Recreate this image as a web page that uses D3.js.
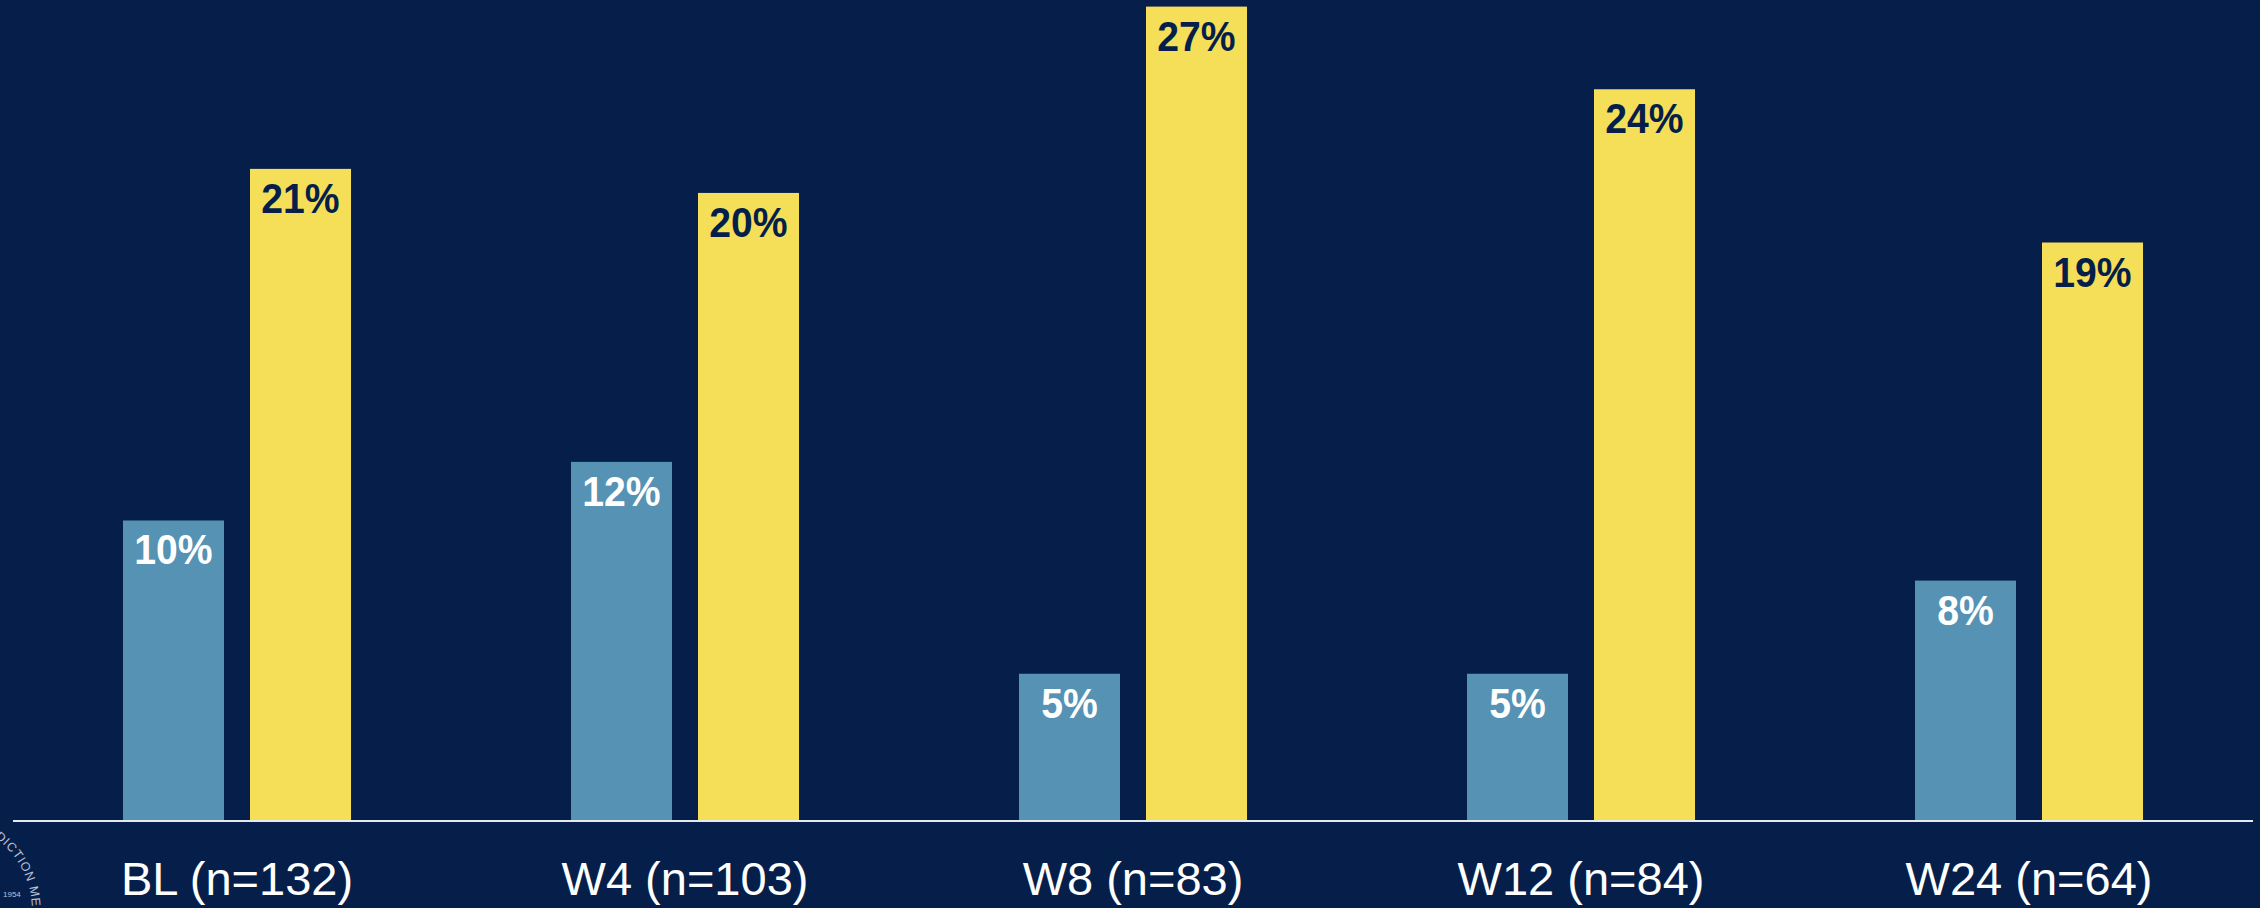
<!DOCTYPE html>
<html>
<head>
<meta charset="utf-8">
<script src="https://cdn.jsdelivr.net/npm/d3@7"></script>
<style>
  html, body { margin: 0; padding: 0; background: #061f4a; overflow: hidden; }
  svg { display: block; }
</style>
</head>
<body>
<svg id="chart" width="2260" height="908"></svg>
<script>
// ---- data ----
const categories = ["BL (n=132)", "W4 (n=103)", "W8 (n=83)", "W12 (n=84)", "W24 (n=64)"];
const seriesNames = ["blue", "yellow"];
const blueValues = [10.0, 11.95, 4.9, 4.9, 8.0];
const yellowValues = [21.7, 20.9, 27.1, 24.35, 19.25];
const blueLabels = ["10%", "12%", "5%", "5%", "8%"];
const yellowLabels = ["21%", "20%", "27%", "24%", "19%"];

// ---- layout ----
const W = 2260, H = 908;
const baseline = 821;
const svg = d3.select("#chart");
const font = "'Liberation Sans', Arial, Helvetica, sans-serif";

svg.append("rect").attr("width", W).attr("height", H).attr("fill", "#061f4a");

const x0 = d3.scaleBand().domain(categories).range([13, 2253])
  .paddingInner(0.491).paddingOuter(0.2455);
const x1 = d3.scaleBand().domain(seriesNames).range([0, x0.bandwidth()])
  .paddingInner(0.2047).paddingOuter(0);
const y = d3.scaleLinear().domain([0, 27.32]).range([baseline, 0]);

const colors = { blue: "#5592b3", yellow: "#f6df58" };
const labelColors = { blue: "#ffffff", yellow: "#061f4a" };

const rows = categories.map((c, i) => ({
  cat: c,
  items: [
    { s: "blue", v: blueValues[i], label: blueLabels[i] },
    { s: "yellow", v: yellowValues[i], label: yellowLabels[i] }
  ]
}));

const g = svg.append("g");
const groups = g.selectAll("g.grp").data(rows).join("g")
  .attr("class", "grp")
  .attr("transform", d => `translate(${x0(d.cat)},0)`);

groups.selectAll("rect").data(d => d.items).join("rect")
  .attr("x", d => x1(d.s))
  .attr("y", d => y(d.v))
  .attr("width", x1.bandwidth())
  .attr("height", d => baseline - y(d.v))
  .attr("fill", d => colors[d.s]);

groups.selectAll("text.val").data(d => d.items).join("text")
  .attr("class", "val")
  .attr("transform", d => `translate(${x1(d.s) + x1.bandwidth() / 2},${y(d.v) + 44}) scale(0.91,1)`)
  .attr("text-anchor", "middle")
  .attr("font-family", font)
  .attr("font-weight", "bold")
  .attr("font-size", 43)
  .attr("fill", d => labelColors[d.s])
  .text(d => d.label);

// axis
const xAxis = d3.axisBottom(x0).tickSize(0).tickPadding(0);
const ax = svg.append("g").attr("transform", `translate(0,${baseline})`).call(xAxis);
ax.select(".domain").attr("stroke", "#e6e9ef").attr("stroke-width", 2)
  .attr("d", `M13,0H2253`);
ax.selectAll(".tick text")
  .attr("font-family", font)
  .attr("font-size", 47)
  .attr("fill", "#ffffff")
  .attr("dy", 0)
  .attr("y", 74);

// partial seal watermark, bottom-left
const cx = -57, cy = 910, r = 89;
const defs = svg.append("defs");
defs.append("path").attr("id", "sealArc")
  .attr("d", `M${cx},${cy - r} A${r},${r} 0 1,1 ${cx},${cy + r} A${r},${r} 0 1,1 ${cx},${cy - r}`);
svg.append("text")
  .attr("font-family", font)
  .attr("font-size", 12.5)
  .attr("letter-spacing", 0.8)
  .attr("fill", "#b9c2d3")
  .append("textPath")
  .attr("href", "#sealArc")
  .attr("startOffset", 36)
  .text("ADDICTION MEDICINE");
svg.append("text")
  .attr("x", 3).attr("y", 897)
  .attr("font-family", font)
  .attr("font-size", 8)
  .attr("fill", "#b9c2d3")
  .text("1954");
</script>
</body>
</html>
